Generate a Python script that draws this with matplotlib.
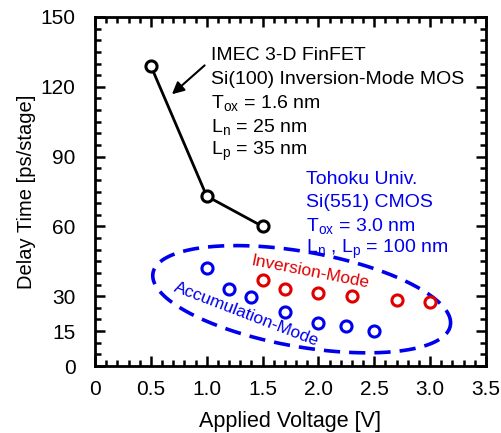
import numpy as np
import matplotlib
matplotlib.use('Agg')
import matplotlib.pyplot as plt
from matplotlib.ticker import MultipleLocator

plt.rcParams['font.family'] = ['Liberation Sans', 'DejaVu Sans']
plt.rcParams['mathtext.fontset'] = 'custom'
plt.rcParams['mathtext.rm'] = 'Liberation Sans'
plt.rcParams['mathtext.it'] = 'Liberation Sans:italic'

# IMEC 3-D FinFET, Si(100) inversion-mode
imec_v = [0.5, 1.0, 1.5]
imec_delay = [129, 73, 60]

# Tohoku Si(551) accumulation-mode
acc_v = [1.0, 1.2, 1.4, 1.7, 2.0, 2.25, 2.5]
acc_delay = [42, 33, 29.5, 23, 18.5, 17, 15]

# Tohoku Si(551) inversion-mode
inv_v = [1.5, 1.7, 2.0, 2.3, 2.7, 3.0]
inv_delay = [37, 33, 31.5, 30, 28.5, 27.5]

y_ticks = [0, 15, 30, 60, 90, 120, 150]
x_ticks = [0, 0.5, 1.0, 1.5, 2.0, 2.5, 3.0, 3.5]
x_labels = ['0', '0.5', '1.0', '1.5', '2.0', '2.5', '3.0', '3.5']

BLUE = '#0000ee'
RED = '#e00000'


def ellipse_points(ax, center, a_px, b_px, angle_deg, n=300):
    """Ellipse drawn in screen pixels, mapped back to data coords."""
    cx, cy = ax.transData.transform(center)
    t = np.linspace(0, 2 * np.pi, n)
    th = np.radians(angle_deg)
    dx = a_px * np.cos(t) * np.cos(th) - b_px * np.sin(t) * np.sin(th)
    dy = a_px * np.cos(t) * np.sin(th) + b_px * np.sin(t) * np.cos(th)
    pts = ax.transData.inverted().transform(np.column_stack([cx + dx, cy + dy]))
    return pts[:, 0], pts[:, 1]


fig = plt.figure(figsize=(5.02, 4.33), dpi=100)
ax = fig.add_axes([95 / 502, 1 - 366 / 433, 391 / 502, 349 / 433])
ax.set_xlim(0, 3.5)
ax.set_ylim(0, 150)

ax.plot(imec_v, imec_delay, '-o', color='black', lw=2, ms=8, mfc='white',
        mec='black', mew=2.2, zorder=3)
ax.plot(acc_v, acc_delay, 'o', color=BLUE, ms=8, mfc='white', mew=2.2, zorder=3)
ax.plot(inv_v, inv_delay, 'o', color=RED, ms=8, mfc='white', mew=2.2, zorder=3)

ex, ey = ellipse_points(ax, (1.85, 28.7), 151, 47.5, -10)
ax.plot(ex, ey, color=BLUE, lw=2.6, dashes=(4.5, 2.5), zorder=2)

# annotations
imec_lines = ['IMEC 3-D FinFET', 'Si(100) Inversion-Mode MOS',
              'T$_{\\rm ox}$ = 1.6 nm', 'L$_{\\rm n}$ = 25 nm', 'L$_{\\rm p}$ = 35 nm']
for i, s in enumerate(imec_lines):
    ax.text(1.035, 133.5 - i * 10.3, s, fontsize=14, va='center', ha='left')

tohoku_lines = ['Tohoku Univ.', 'Si(551) CMOS', 'T$_{\\rm ox}$ = 3.0 nm',
                'L$_{\\rm n}$ , L$_{\\rm p}$ = 100 nm']
for i, s in enumerate(tohoku_lines):
    ax.text(1.89, 80 - i * 9.9, s, fontsize=14, va='center', ha='left', color=BLUE)

ax.annotate('', xy=(0.67, 116), xytext=(1.0, 130),
            arrowprops=dict(arrowstyle='-|>', color='black', lw=1.5,
                            mutation_scale=18))

ax.text(1.93, 40.3, 'Inversion-Mode', color=RED, fontsize=12.5, rotation=-11,
        ha='center', va='center', rotation_mode='anchor')
ax.text(1.36, 22.3, 'Accumulation-Mode', color=BLUE, fontsize=12.5, rotation=-21,
        ha='center', va='center', rotation_mode='anchor')

ax.set_xticks(x_ticks)
ax.set_xticklabels(x_labels)
ax.set_yticks(y_ticks)
ax.xaxis.set_minor_locator(MultipleLocator(0.1))
ax.yaxis.set_minor_locator(MultipleLocator(5))
ax.tick_params(which='both', direction='in', top=True, right=True, width=1.8,
               labelsize=15)
ax.tick_params(axis='x', which='major', pad=10)
ax.tick_params(axis='y', which='major', pad=14)
ax.tick_params(which='major', length=7)
ax.tick_params(which='minor', length=4)
for sp in ax.spines.values():
    sp.set_linewidth(2)

ax.set_xlabel('Applied Voltage [V]', fontsize=15.5, labelpad=8.5)
ax.set_ylabel('Delay Time [ps/stage]', fontsize=14.5, labelpad=3)

fig.savefig('out.png', dpi=100)
